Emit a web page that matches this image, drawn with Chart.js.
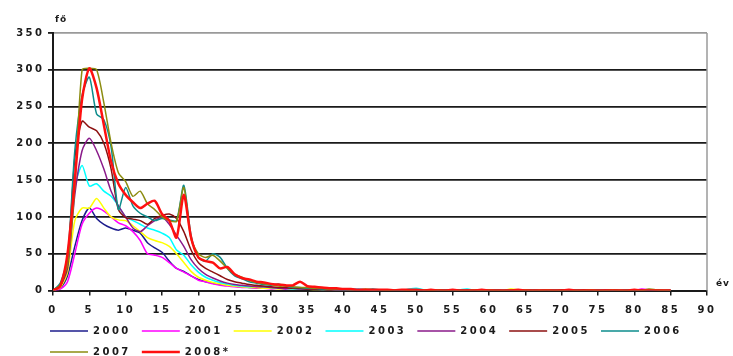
<!DOCTYPE html>
<html>
<head>
  <title>Age distribution</title>
  <style>
    body { margin: 0; background: #fff; }
    #chart-container { width: 733px; height: 356px; }
  </style>
</head>
<body>
  <div id="chart-container">
    <canvas id="line-chart"></canvas>
  </div>

  <script src="https://cdn.jsdelivr.net/npm/chart.js"></script>
  <script>
    // ages (x values)
    const ages = [
      0, 1, 2, 3, 4, 5, 6, 7, 8, 9, 10, 11, 12, 13, 14, 15, 16, 17, 18, 19,
      20, 21, 22, 23, 24, 25, 26, 27, 28, 29, 30, 31, 32, 33, 34, 35, 36, 37, 38, 39,
      40, 41, 42, 43, 44, 45, 46, 47, 48, 49, 50, 51, 52, 53, 54, 55, 56, 57, 58, 59,
      60, 61, 62, 63, 64, 65, 66, 67, 68, 69, 70, 71, 72, 73, 74, 75, 76, 77, 78, 79,
      80, 81, 82, 83, 84, 85
    ];

    const years = ['2000', '2001', '2002', '2003', '2004', '2005', '2006', '2007', '2008*'];
    const colors = ['#1c1c8c', '#ff00ff', '#ffff00', '#00ffff', '#8a1a8a', '#8c1010', '#0c8c8c', '#8c8c10', '#ff1010'];

    // values, age 0..85
    const v2000 = [0,3,20,60,95,112,98,90,85,82, 85,82,78,65,58,52,40,30,26,20, 15,12,10,8,7,6,5,4,4,3, 3,3,2,2,2,2,1,2,1,1,
      1, 1,0,1,1,0,1,0,1,0,0, 1,0,1,0,0,0,1,0,0,1, 0,0,0,1,0,0,0,0,1,0, 0,0,0,1,0,0,0,0,0,1, 0,0,0,0,0];
    const v2001 = [0,2,12,50,90,105,112,108,100,92, 88,80,68,50,48,45,38,30,25,20, 14,12,9,7,6,5,4,4,3,3, 2,3,2,2,3,2,4,2,2,1,
      1, 1,2,1,0,1,1,0,1,0,1, 0,1,0,0,1,0,0,1,0,0, 1,0,0,1,0,0,0,1,0,0, 1,0,0,0,1,0,0,0,1,0, 2,1,0,0,0];
    const v2002 = [0,4,25,95,112,112,125,112,100,96, 95,88,80,72,68,65,60,50,38,26, 18,14,11,9,7,6,5,4,4,3, 3,2,3,2,2,2,1,1,1,1,
      1, 1,1,0,1,0,1,0,0,1,0, 1,0,0,1,0,0,1,0,0,0, 1,0,2,1,0,0,1,0,0,1, 0,0,0,1,0,0,0,1,0,0, 0,1,0,1,0];
    const v2003 = [0,8,35,140,170,142,145,135,128,115, 100,95,90,85,82,78,72,55,48,35, 25,18,14,11,9,7,6,5,6,5, 4,3,3,2,2,2,2,1,2,1,
      1, 1,2,1,1,0,1,1,0,2,3, 1,1,0,1,0,1,2,0,0,1, 0,1,0,0,1,0,0,1,0,0, 1,0,0,0,1,0,0,0,1,0, 0,1,0,0,0];
    const v2004 = [0,6,30,130,190,207,190,165,135,115, 100,85,80,88,95,100,90,75,60,42, 30,22,17,13,10,8,7,6,5,5, 4,3,3,3,2,2,2,1,1,1,
      1, 1,0,1,1,0,1,0,0,1,0, 1,0,0,1,0,0,1,0,0,0, 1,0,0,1,0,0,0,1,0,0, 0,1,0,0,0,1,0,0,0,0, 1,0,0,0,0];
    const v2005 = [0,6,35,180,230,222,217,200,165,110, 99,97,95,90,98,102,104,98,80,55, 38,30,25,20,15,12,10,8,7,6, 5,4,4,3,3,2,2,2,1,1,
      1, 1,1,0,1,0,1,0,1,0,0, 1,0,1,0,0,1,0,0,1,0, 0,0,1,0,0,1,0,0,0,1, 0,0,1,0,0,0,1,0,0,0, 1,0,0,0,0];
    const v2006 = [0,10,45,190,265,290,240,232,195,110, 140,115,105,100,95,98,96,95,143,75, 45,40,50,45,30,20,16,12,10,8, 7,9,6,4,4,3,3,2,2,2,
      1, 2,1,1,2,1,1,0,1,1,0, 1,1,0,1,0,1,0,1,0,0, 1,0,1,0,0,1,0,0,1,0, 0,1,0,0,1,0,0,0,1,0, 0,0,1,0,0];
    const v2007 = [0,8,35,140,300,302,300,255,200,160, 148,128,135,118,110,100,95,94,140,70, 50,45,48,40,30,22,18,14,11,9, 8,6,6,5,4,4,3,3,2,2,
      2, 1,1,2,1,1,0,1,1,0,1, 1,0,1,0,1,0,0,1,0,1, 0,0,1,0,1,0,0,1,0,0, 1,0,0,1,0,0,1,0,0,1, 0,2,1,0,0];
    const v2008 = [0,6,50,150,260,302,275,225,175,145, 130,120,112,118,122,104,95,72,130,72, 45,40,38,30,32,22,17,15,12,11, 9,8,7,7,12,6,5,4,3,3,
      2, 2,1,1,1,1,1,0,1,1,1, 0,1,0,0,1,0,0,0,1,0, 0,0,0,1,0,0,0,0,0,0, 1,0,0,0,0,0,0,0,0,1, 0,0,0,0,0];

    const seriesValues = [v2000, v2001, v2002, v2003, v2004, v2005, v2006, v2007, v2008];

    const textFont = { family: 'DejaVu Sans', size: 10, weight: 'bold' };
    const textColor = '#1a1a1a';

    const datasets = years.map((year, i) => ({
      label: year,
      data: ages.map((a, j) => ({ x: a, y: seriesValues[i][j] })),
      borderColor: colors[i],
      backgroundColor: colors[i],
      borderWidth: i === 8 ? 2.5 : 1.5,
      pointRadius: 0,
      tension: 0.25,
      order: 8 - i
    }));

    // wide lettering like the original picture
    const spacing = {
      id: 'spacing',
      beforeUpdate(chart) { chart.ctx.letterSpacing = '2.5px'; },
      beforeDraw(chart) { chart.ctx.letterSpacing = '2.5px'; }
    };

    // legend starts under the plot, right border, unit labels
    const extras = {
      id: 'extras',
      afterLayout(chart) {
        chart.legend.left = chart.chartArea.left - 14;
      },
      beforeDatasetsDraw(chart) {
        const { ctx, chartArea } = chart;
        ctx.save();
        ctx.strokeStyle = '#9a9a9a';
        ctx.lineWidth = 1.5;
        ctx.beginPath();
        ctx.moveTo(chartArea.right, chartArea.top);
        ctx.lineTo(chartArea.right, chartArea.bottom);
        ctx.stroke();
        ctx.restore();
      },
      afterDraw(chart) {
        const { ctx, chartArea } = chart;
        ctx.save();
        ctx.letterSpacing = '1px';
        ctx.font = 'bold 9px "DejaVu Sans"';
        ctx.fillStyle = textColor;
        ctx.textBaseline = 'middle';
        ctx.fillText('fő', chartArea.left + 2, chartArea.top - 13);
        ctx.fillText('év', chartArea.right + 9, chartArea.bottom - 7);
        ctx.restore();
      }
    };

    const ctx = document.getElementById('line-chart').getContext('2d');
    new Chart(ctx, {
      type: 'line',
      data: { datasets: datasets },
      plugins: [spacing, extras],
      options: {
        responsive: true,
        maintainAspectRatio: false,
        animation: false,
        layout: { padding: { left: 0, right: 26, top: 33, bottom: -11 } },
        plugins: {
          tooltip: { enabled: false },
          legend: {
            position: 'bottom',
            align: 'start',
            labels: {
              usePointStyle: true,
              pointStyle: 'line',
              pointStyleWidth: 38,
              padding: 11,
              color: textColor,
              font: textFont,
              sort: (a, b) => a.datasetIndex - b.datasetIndex
            }
          }
        },
        scales: {
          x: {
            type: 'linear',
            min: 0,
            max: 90,
            ticks: { stepSize: 5, padding: 9, maxRotation: 0, autoSkip: false, color: textColor, font: textFont },
            grid: { drawOnChartArea: false, tickLength: 5, color: textColor, lineWidth: 1.5 },
            border: { color: textColor, width: 2 },
            afterFit: s => { s.height = 24.5; }
          },
          y: {
            min: 0,
            max: 350,
            ticks: { stepSize: 50, padding: 3.5, color: textColor, font: textFont },
            grid: {
              color: c => (c.tick && c.tick.value === 350 ? '#9a9a9a' : textColor),
              tickColor: textColor,
              tickLength: 5,
              lineWidth: 1.8
            },
            border: { color: textColor, width: 2 },
            afterFit: s => { s.width = 53; }
          }
        }
      }
    });
  </script>
</body>
</html>
